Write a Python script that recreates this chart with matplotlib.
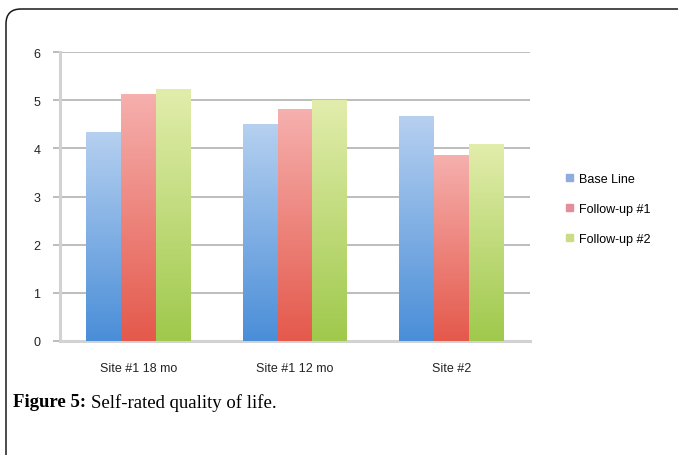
import matplotlib
matplotlib.use("Agg")
import matplotlib.pyplot as plt
import numpy as np
from matplotlib.colors import LinearSegmentedColormap
from matplotlib.patches import FancyBboxPatch

sites = ["Site #1 18 mo", "Site #1 12 mo", "Site #2"]
series = ["Base Line", "Follow-up #1", "Follow-up #2"]
base_line = [4.34, 4.50, 4.67]
follow_up_1 = [5.13, 4.81, 3.87]
follow_up_2 = [5.24, 5.01, 4.10]
y_ticks = [0, 1, 2, 3, 4, 5, 6]

# light top -> saturated bottom for each series
shades = [
    ("#b6d0f0", "#4a8ed8"),
    ("#f6b0ae", "#e4594b"),
    ("#e2edac", "#9fc94c"),
]
legend_colors = ["#8eacde", "#e48e9a", "#cadd84"]

W, H = 678, 456
fig = plt.figure(figsize=(W / 100, H / 100), dpi=100)

# rounded frame around the figure panel (right and bottom run off the page)
frame = FancyBboxPatch((6 / W, -0.2), 0.2 + 1, 1.2 - 10 / H,
                       boxstyle="round,pad=0,rounding_size=0.022",
                       transform=fig.transFigure, fill=False,
                       edgecolor="#1a1a1a", linewidth=1.1, mutation_aspect=W / H)
fig.patches.append(frame)

ax = fig.add_axes([60 / W, 1 - 342 / H, 470 / W, 289 / H])

x = np.arange(len(sites))
w = 1 / 4.5
values = [base_line, follow_up_1, follow_up_2]
grad = np.linspace(0, 1, 256).reshape(-1, 1)
for i, vals in enumerate(values):
    bars = ax.bar(x + (i - 1) * w, vals, width=w, facecolor="none",
                  edgecolor="none", zorder=3)
    cmap = LinearSegmentedColormap.from_list(series[i], [shades[i][1], shades[i][0]])
    for b in bars:
        x0, y0 = b.get_x(), b.get_y()
        im = ax.imshow(grad, cmap=cmap, aspect="auto", origin="lower",
                       extent=[x0, x0 + b.get_width(), y0, y0 + b.get_height()],
                       zorder=3)
        im.set_clip_path(b)
ax.set_xlim(-0.5, 2.5)
ax.set_ylim(0, 6)

ax.set_yticks(y_ticks)
ax.set_xticks(x)
ax.set_xticklabels(sites)
ax.grid(axis="y", color="#bdbdbd", linewidth=1.4, zorder=0)
for s in ["top", "right"]:
    ax.spines[s].set_visible(False)
for s in ["left", "bottom"]:
    ax.spines[s].set_color("#d2d2d2")
    ax.spines[s].set_linewidth(2.2)
ax.tick_params(axis="y", length=5, color="#bdbdbd", width=1.4, pad=9,
               labelsize=9, labelcolor="#222222")
ax.tick_params(axis="x", length=0, pad=15, labelsize=9, labelcolor="#222222")
for lab in ax.get_xticklabels() + ax.get_yticklabels():
    lab.set_fontfamily("Liberation Sans")

handles = [plt.Rectangle((0, 0), 1, 1, color=c) for c in legend_colors]
fig.legend(handles, series, loc="center left", bbox_to_anchor=(555 / W, 1 - 210 / H),
           frameon=False, handlelength=0.55, handleheight=0.55, labelspacing=1.45,
           handletextpad=0.5, prop={"family": "Liberation Sans", "size": 9})

fig.text(13 / W, 1 - 403 / H, "Figure 5:", fontweight="bold", fontsize=13.5,
         family="Liberation Serif", va="center")
fig.text(91 / W, 1 - 403 / H, "Self-rated quality of life.", fontsize=13.5,
         family="Liberation Serif", va="center")

fig.savefig("out.png", dpi=100)
